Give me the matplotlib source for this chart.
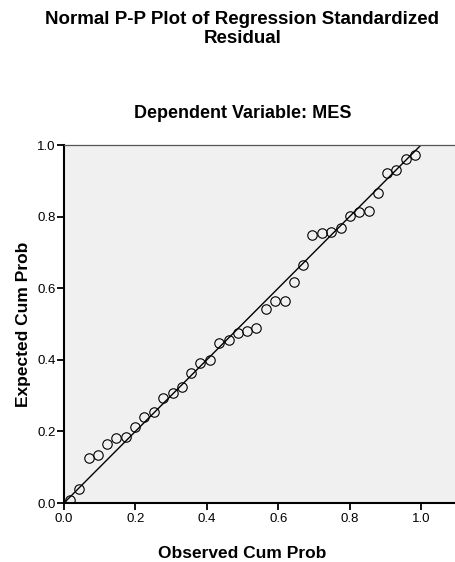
import matplotlib.pyplot as plt

plt.rcParams['font.family'] = ['Liberation Sans', 'DejaVu Sans']

# observed cumulative probability (x)
observed = [0.016, 0.043, 0.069, 0.095, 0.121, 0.147, 0.173, 0.199, 0.225, 0.252,
            0.278, 0.304, 0.330, 0.356, 0.382, 0.408, 0.435, 0.461, 0.487, 0.513,
            0.539, 0.565, 0.592, 0.618, 0.644, 0.670, 0.696, 0.722, 0.748, 0.775,
            0.801, 0.827, 0.853, 0.879, 0.905, 0.931, 0.957, 0.984]
# expected cumulative probability (y)
expected = [0.008, 0.038, 0.127, 0.133, 0.164, 0.181, 0.183, 0.213, 0.239, 0.255,
            0.294, 0.307, 0.323, 0.364, 0.390, 0.399, 0.448, 0.456, 0.476, 0.481,
            0.489, 0.543, 0.564, 0.564, 0.617, 0.666, 0.748, 0.755, 0.756, 0.767,
            0.803, 0.813, 0.816, 0.865, 0.923, 0.930, 0.962, 0.971]
ticks = [0.0, 0.2, 0.4, 0.6, 0.8, 1.0]
tick_labels = ['0.0', '0.2', '0.4', '0.6', '0.8', '1.0']

fig = plt.figure(figsize=(4.56, 5.62), dpi=100)
ax = fig.add_axes([64 / 456, 59 / 562, 1 - 64 / 456, 358 / 562])
xmax = 392 / 357
ax.set_xlim(0, xmax)
ax.set_ylim(0, 1)
ax.set_facecolor('#f0f0f0')

ax.plot([0, 1.2], [0, 1.2], color='black', lw=1.0, zorder=2)
ax.plot(observed, expected, 'o', ms=6.8, mfc='none', mec='black', mew=0.8, zorder=3)

ax.set_xticks(ticks)
ax.set_xticklabels(tick_labels)
ax.set_yticks(ticks)
ax.set_yticklabels(tick_labels)
ax.tick_params(direction='out', length=5, width=1.3, color='black', labelsize=9.5, pad=1)
ax.tick_params(axis='x', pad=2.5)

for side in ['left', 'bottom']:
    ax.spines[side].set_linewidth(1.5)
    ax.spines[side].set_color('black')
ax.spines['top'].set_color('#555555')
ax.spines['top'].set_linewidth(0.9)
ax.spines['right'].set_visible(False)

xc = 0.5 / xmax
ax.set_xlabel('Observed Cum Prob', fontsize=12.5, fontweight='bold')
ax.xaxis.set_label_coords(xc, -0.12)
ax.set_ylabel('Expected Cum Prob', fontsize=12.5, fontweight='bold')
ax.yaxis.set_label_coords(-0.085, 0.5)

fx = (64 + xc * (456 - 64)) / 456
fig.text(fx, 1 - 29 / 562, 'Normal P-P Plot of Regression Standardized\nResidual',
         ha='center', va='center', fontsize=13.5, fontweight='bold', linespacing=1.15)
fig.text(fx, 1 - 114 / 562, 'Dependent Variable: MES',
         ha='center', va='center', fontsize=13, fontweight='bold')

fig.savefig('out.png', dpi=100)
